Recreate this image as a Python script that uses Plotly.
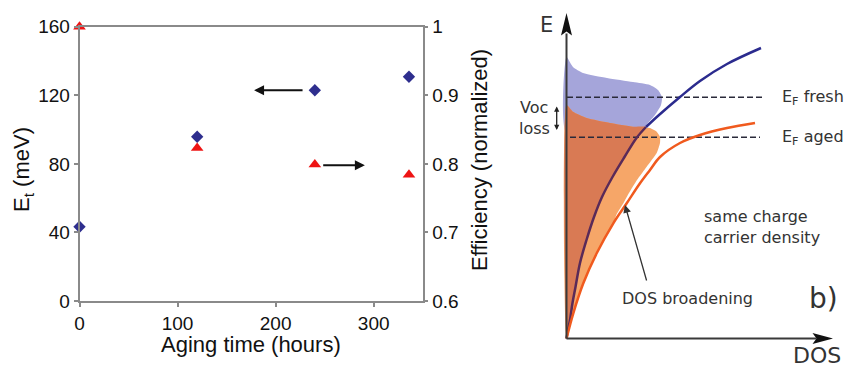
import plotly.graph_objects as go

# ---------------- left panel data ----------------
aging_hours = [0, 120, 240, 336]
trap_energy_meV = [43.3, 95.8, 122.9, 130.8]
efficiency_norm = [1.0, 0.823, 0.799, 0.784]

x_ticks = [0, 100, 200, 300]
left_ticks = [0, 40, 80, 120, 160]
right_ticks = [0.6, 0.7, 0.8, 0.9, 1.0]
right_ticktext = ["0.6", "0.7", "0.8", "0.9", "1"]

# arrows that tell which axis a series belongs to (tail x, head x, level)
et_arrow_x = [229, 178]
et_arrow_y = 123
eff_arrow_x = [247, 291]
eff_arrow_y = 0.798

# ---------------- right panel (schematic, DOS vs E) ----------------
fresh_dos_x = [0, 1.5, 3.5, 6, 9, 13.5, 20, 27.5, 35.5, 46, 58, 70, 79.5,
               92.5, 113.5, 133.5, 160.5, 194.5]
fresh_dos_y = [0, 8.5, 18.5, 35.5, 51.5, 75.5, 98.5, 121.5, 141.5, 161.5, 181.5, 200.5, 211.5,
               223.5, 241.5, 257.5, 274.5, 290.5]
split = 12  # part of the fresh DOS curve that lies under the aged fill

aged_dos_x = [0, 6.8, 16.8, 30.2, 46.8, 60.2, 73.5, 83.5, 93.5, 113.5, 133.5, 160.5, 188.5]
aged_dos_y = [0, 25.2, 55.2, 85.2, 115.2, 135.2, 155.2, 168.5, 181.5, 195.5, 203.5, 210.5, 215.5]
join = 4  # where the aged occupied-state fill meets the aged DOS curve

fresh_occ_x = [0, 6.5, 16.5, 40.5, 66.5, 83.5, 91.5, 95.5, 94.5, 88.5, 81.5, 75, 40, 0, 0]
fresh_occ_y = [281.5, 271.5, 265.5, 260.5, 256.5, 253.5, 248.5, 241.5, 233.5, 223.5, 215.5,
               208, 205, 205, 281.5]

aged_top_x = [0, 6.5, 20.2, 43.5, 66.5]
aged_top_y = [233.5, 226.8, 220.5, 215.5, 211.8]
aged_bulge_x = [83.5, 90.2, 93.5, 93.5, 90.2, 80.2, 70.5, 62.5, 57, 50]
aged_bulge_y = [210.5, 206.8, 201.8, 195.5, 185.5, 171.8, 158.5, 145.5, 135.5, 124]

ef_fresh_x = [0.5, 198.5]
ef_fresh_y = 241.2
ef_aged_x = [3.5, 193.5]
ef_aged_y = 201.2

e_axis_top = 305
e_head_x = [0, -5.5, 0, 5.5, 0]
e_head_y = [325.5, 303, 307, 303, 325.5]
dos_axis_end = 250
dos_head_x = [266.5, 246, 250, 246, 266.5]
dos_head_y = [0, 5.5, 0, -5.5, 0]

LEFT_FONT = "Liberation Sans, Arial, sans-serif"
SCH_FONT = "DejaVu Sans, Verdana, sans-serif"
W, H = 844, 368

fig = go.Figure()

# left panel traces
fig.add_trace(go.Scatter(x=aging_hours, y=trap_energy_meV, mode="markers",
                         marker=dict(symbol="diamond", size=9.5, color="#2e2e8e"),
                         cliponaxis=False, xaxis="x", yaxis="y"))
fig.add_trace(go.Scatter(x=aging_hours, y=efficiency_norm, mode="markers",
                         marker=dict(symbol="triangle-up", size=11, color="#ee1414"),
                         cliponaxis=False, xaxis="x", yaxis="y2"))

# schematic fills
sch = dict(xaxis="x3", yaxis="y3", hoverinfo="skip", showlegend=False)
fig.add_trace(go.Scatter(x=fresh_occ_x, y=fresh_occ_y, fill="toself", mode="lines",
                         line=dict(width=0, shape="spline", smoothing=0.6),
                         fillcolor="#a5a5da", **sch))

light_x = [0, 0] + aged_top_x[1:] + aged_bulge_x + aged_dos_x[join::-1]
light_y = [0, 233.5] + aged_top_y[1:] + aged_bulge_y + aged_dos_y[join::-1]
fig.add_trace(go.Scatter(x=light_x, y=light_y, fill="toself", mode="lines",
                         line=dict(width=0, shape="spline", smoothing=0.5),
                         fillcolor="#f6a668", **sch))

dark_x = [0, 0] + aged_top_x[1:] + fresh_dos_x[split::-1]
dark_y = [0, 233.5] + aged_top_y[1:] + fresh_dos_y[split::-1]
fig.add_trace(go.Scatter(x=dark_x, y=dark_y, fill="toself", mode="lines",
                         line=dict(width=0, shape="spline", smoothing=0.5),
                         fillcolor="#d97a54", **sch))

# Fermi levels
for xs, yv in ((ef_fresh_x, ef_fresh_y), (ef_aged_x, ef_aged_y)):
    fig.add_trace(go.Scatter(x=xs, y=[yv, yv], mode="lines",
                             line=dict(color="#2a2a3a", width=1.5, dash="6px,3px"), **sch))

# DOS curves
fig.add_trace(go.Scatter(x=fresh_dos_x[:split + 1], y=fresh_dos_y[:split + 1], mode="lines",
                         line=dict(color="#5a2a58", width=2.5, shape="spline", smoothing=1),
                         **sch))
fig.add_trace(go.Scatter(x=fresh_dos_x[split:], y=fresh_dos_y[split:], mode="lines",
                         line=dict(color="#2b2b8e", width=2.5, shape="spline", smoothing=1),
                         **sch))
fig.add_trace(go.Scatter(x=aged_dos_x, y=aged_dos_y, mode="lines",
                         line=dict(color="#f05a1e", width=2.5, shape="spline", smoothing=1),
                         **sch))

# schematic axes
fig.add_trace(go.Scatter(x=[0, 0], y=[0, e_axis_top], mode="lines",
                         line=dict(color="#3a3a3a", width=2), **sch))
fig.add_trace(go.Scatter(x=[0, dos_axis_end], y=[0, 0], mode="lines",
                         line=dict(color="#3a3a3a", width=2), **sch))
fig.add_trace(go.Scatter(x=e_head_x, y=e_head_y, fill="toself", mode="lines",
                         line=dict(width=0), fillcolor="#111111", **sch))
fig.add_trace(go.Scatter(x=dos_head_x, y=dos_head_y, fill="toself", mode="lines",
                         line=dict(width=0), fillcolor="#111111", **sch))

ann = []
# left panel axis titles
ann.append(dict(text="Aging time (hours)", x=251 / W, y=1 - 344 / H, xref="paper", yref="paper",
                showarrow=False, font=dict(family=LEFT_FONT, size=22, color="#111"),
                xanchor="center", yanchor="middle"))
ann.append(dict(text="E<sub>t</sub> (meV)", x=23 / W, y=1 - 170 / H, xref="paper", yref="paper",
                showarrow=False, textangle=-90, font=dict(family=LEFT_FONT, size=22, color="#111"),
                xanchor="center", yanchor="middle"))
ann.append(dict(text="Efficiency (normalized)", x=480 / W, y=1 - 160 / H, xref="paper",
                yref="paper", showarrow=False, textangle=-90,
                font=dict(family=LEFT_FONT, size=22, color="#111"),
                xanchor="center", yanchor="middle"))
# axis-pointing arrows
ann.append(dict(x=et_arrow_x[1], y=et_arrow_y, ax=et_arrow_x[0], ay=et_arrow_y, xref="x", yref="y",
                axref="x", ayref="y", text="", showarrow=True, arrowhead=2, arrowsize=1,
                arrowwidth=2, arrowcolor="#111"))
ann.append(dict(x=eff_arrow_x[1], y=eff_arrow_y, ax=eff_arrow_x[0], ay=eff_arrow_y, xref="x",
                yref="y2", axref="x", ayref="y2", text="", showarrow=True, arrowhead=2,
                arrowsize=1, arrowwidth=2, arrowcolor="#111"))

# schematic labels
def sch_text(text, x, y, size=16, xanchor="center", align="center"):
    return dict(text=text, x=x, y=y, xref="x3", yref="y3", showarrow=False, xanchor=xanchor,
                yanchor="middle", align=align, font=dict(family=SCH_FONT, size=size, color="#333"))

ann.append(sch_text("E", -20.5, 313.5, size=21))
ann.append(sch_text("DOS", 250.5, -17, size=22))
ann.append(sch_text("E<sub>F</sub> fresh", 213.5, 241.5, xanchor="left"))
ann.append(sch_text("E<sub>F</sub> aged", 213.5, 201.5, xanchor="left"))
ann.append(sch_text("Voc", -32.5, 231.5))
ann.append(sch_text("loss", -32.5, 210.5))
ann.append(sch_text("same charge<br>carrier density", 135.5, 111.5, xanchor="left", align="left"))
ann.append(sch_text("DOS broadening", 120.5, 40.5))
ann.append(sch_text("b)", 256.5, 40.5, size=28))
ann.append(dict(x=-9.8, y=208.5, ax=-9.8, ay=233.5, xref="x3", yref="y3", axref="x3", ayref="y3",
                text="", showarrow=True, arrowhead=2, startarrowhead=2, arrowside="end+start",
                arrowsize=0.8, startarrowsize=0.8, arrowwidth=1.3, arrowcolor="#222"))
ann.append(dict(x=58.5, y=133.5, ax=80.5, ay=56.5, xref="x3", yref="y3", axref="x3", ayref="y3",
                text="", showarrow=True, arrowhead=2, arrowsize=1.2, arrowwidth=1.3,
                arrowcolor="#333"))

tickfont = dict(family=LEFT_FONT, size=19, color="#111")
axis_common = dict(showgrid=False, zeroline=False, showline=True, linecolor="#8a8a8a",
                   linewidth=1.5, ticks="outside", ticklen=4, tickcolor="#8a8a8a",
                   tickwidth=1.5, tickfont=tickfont, automargin=False)

fig.update_layout(
    width=W, height=H, margin=dict(l=0, r=0, t=0, b=0, pad=0, autoexpand=False),
    paper_bgcolor="white", plot_bgcolor="rgba(0,0,0,0)", showlegend=False,
    xaxis=dict(domain=[79.5 / W, 422.7 / W], range=[0, 350], tickvals=x_ticks, mirror=True,
               anchor="y", **axis_common),
    yaxis=dict(domain=[1 - 301 / H, 1 - 26.7 / H], range=[0, 160], tickvals=left_ticks,
               anchor="x", **axis_common),
    yaxis2=dict(overlaying="y", side="right", anchor="x", range=[0.6, 1.0],
                tickvals=right_ticks, ticktext=right_ticktext, **axis_common),
    xaxis3=dict(domain=[500 / W, 1], range=[-66.5, 277.5], visible=False, anchor="y3",
                automargin=False),
    yaxis3=dict(domain=[0, 1], range=[-29.5, 338.5], visible=False, anchor="x3",
                automargin=False),
    annotations=ann,
)

fig.write_html("out.html")
